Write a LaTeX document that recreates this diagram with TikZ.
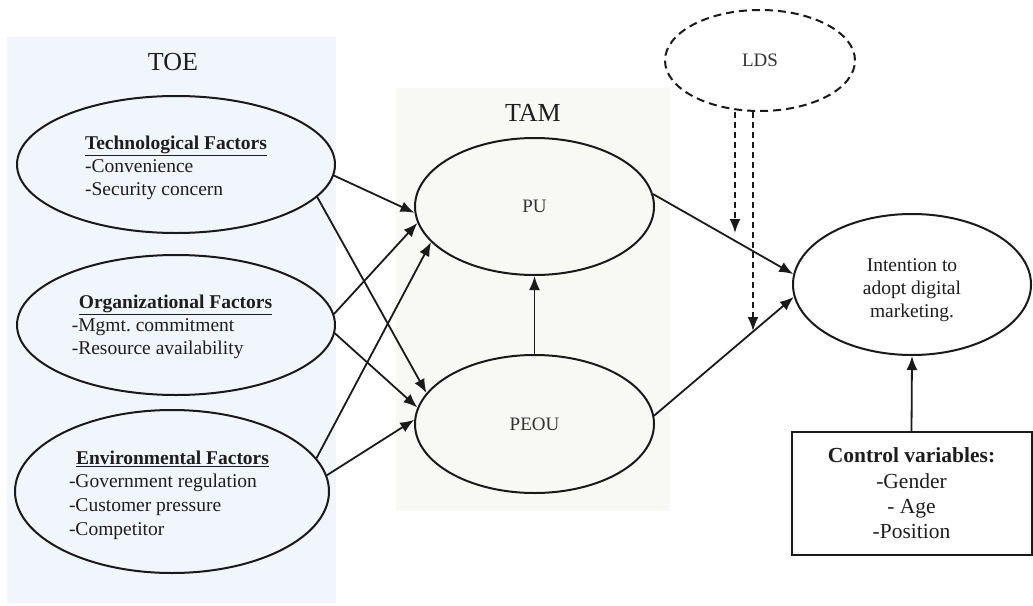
\documentclass[tikz,border=0pt]{standalone}
\usepackage{fontspec}
\setmainfont{Liberation Serif}
\usetikzlibrary{shapes.geometric,arrows.meta}
\definecolor{toebg}{HTML}{F1F5FC}
\definecolor{tambg}{HTML}{F8F9F4}
\definecolor{ink}{HTML}{1A1A1A}
\definecolor{txt}{HTML}{1E1E1E}
\begin{document}
\begin{tikzpicture}[x=1pt,y=-1pt,
  ell/.style={ellipse, draw=ink, line width=2pt, inner sep=0pt},
  arr/.style={line width=1.8pt, draw=ink, -{Latex[length=14pt,width=11pt]}},
  darr/.style={line width=1.8pt, draw=ink, dash pattern=on 6pt off 4pt, -{Latex[length=14pt,width=11pt]}},
  fac/.style={align=left, inner sep=0pt, text=txt, font=\fontsize{19.5}{23}\selectfont},
  title/.style={inner sep=0pt, text=txt, font=\fontsize{26}{30}\selectfont},
  mid/.style={inner sep=0pt, text=black!80, font=\fontsize{19}{23}\selectfont}]
\useasboundingbox (0,0) rectangle (1033,605);
% backgrounds
\fill[toebg] (7,37) rectangle (336,603);
\fill[tambg] (396,88) rectangle (670,511);
\node[title] (toe) at (173,62) {TOE};
\node[title] (tam) at (533,113) {TAM};
% TOE ellipses
\node[ell, fill=toebg, minimum width=318pt, minimum height=137pt] (tech) at (176,164.5) {};
\node[ell, fill=toebg, minimum width=318pt, minimum height=140pt] (org) at (176,325) {};
\node[ell, fill=toebg, minimum width=314pt, minimum height=163pt] (env) at (172,491.5) {};
\node[fac] (techtxt) at (176,167.5) {\underline{\textbf{Technological Factors}}\\-Convenience\\-Security concern};
\node[fac] (orgtxt) at (172,326.5) {\hspace*{7pt}\underline{\textbf{Organizational Factors}}\\-Mgmt.\ commitment\\-Resource availability};
\node[fac, font=\fontsize{19.5}{23.7}\selectfont] (envtxt) at (169,495) {\hspace*{7pt}\underline{\textbf{Environmental Factors}}\\-Government regulation\\-Customer pressure\\-Competitor};
% TAM ellipses
\node[ell, fill=tambg, minimum width=239pt, minimum height=137pt, mid] (pu) at (534.5,206.5) {PU};
\node[ell, fill=tambg, minimum width=239pt, minimum height=138pt, mid] (peou) at (534.5,424) {PEOU};
% LDS
\node[ell, fill=white, dash pattern=on 8pt off 5pt, minimum width=190pt, minimum height=101pt, mid] (lds) at (760,60.5) {LDS};
% Intention
\node[ell, fill=white, minimum width=238pt, minimum height=141pt] (int) at (912,284.5) {};
\node[align=center, inner sep=0pt, text=txt, font=\fontsize{19.5}{23}\selectfont] (inttxt) at (912,290.6) {Intention to\\adopt digital\\marketing.};
% Control box
\node[draw=ink, line width=2pt, fill=white, minimum width=240pt, minimum height=123pt, inner sep=0pt, align=center, text=txt, font=\fontsize{21.5}{25.3}\selectfont] (ctrl) at (911.5,493.5) {\textbf{Control variables:}\\-Gender\\- Age\\-Position};
% arrows
\draw[arr] (tech.-4.4) -- (pu.183.6);
\draw[arr] (tech.-13.1) -- (peou.164);
\draw[arr] (org.4.4) -- (pu.188);
\draw[arr] (org.-3.6) -- (peou.172);
\draw[arr] (env.13.6) -- (pu.199);
\draw[arr] (env.6.1) -- (peou.178);
\draw[arr] (peou.north) -- (pu.south);
\draw[arr] (pu.6.6) -- (int.175);
\draw[arr] (peou.4.8) -- (int.186.3);
\draw[arr] (ctrl.north) -- (int.south);
% dashed moderator arrows
\coordinate (d1e) at (735,233);
\coordinate (d2e) at (753,331);
\draw[darr] (lds.south -| d1e) -- (d1e);
\draw[darr] (lds.south -| d2e) -- (d2e);
\end{tikzpicture}
\end{document}
